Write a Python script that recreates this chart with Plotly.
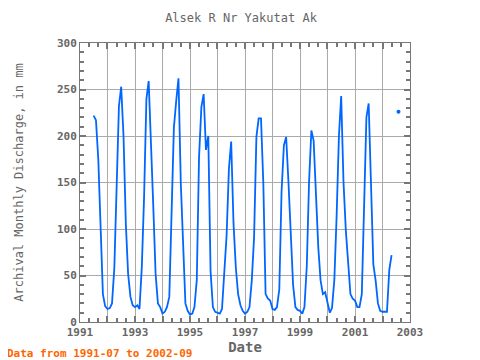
import pandas as pd
import plotly.graph_objects as go

# ---- data (monthly discharge, mm) ----
start_month = "1991-07-01"
end_month = "2002-09-01"
v1991 = [222, 217, 175, 95, 30, 17]
v1992 = [14, 15, 20, 58, 160, 232, 253, 200, 105, 52, 27, 18]
v1993 = [16, 18, 14, 59, 134, 240, 259, 199, 123, 52, 20, 16]
v1994 = [9, 11, 16, 27, 113, 209, 237, 262, 149, 88, 20, 12]
v1995 = [8, 9, 16, 45, 177, 231, 245, 185, 200, 55, 16, 11]
v1996 = [10, 9, 14, 52, 93, 165, 194, 106, 58, 30, 18, 12]
v1997 = [9, 11, 16, 45, 91, 199, 219, 219, 149, 30, 25, 23]
v1998 = [14, 13, 16, 35, 140, 190, 199, 150, 88, 40, 16, 13]
v1999 = [12, 9, 16, 60, 150, 206, 195, 130, 80, 45, 30, 32]
v2000 = [20, 10, 15, 45, 113, 200, 243, 150, 98, 60, 30, 25]
v2001 = [23, 16, 16, 30, 140, 220, 235, 141, 62, 45, 20, 12]
v2002 = [11, 11, 11, 56, 72, None, None, 226, None]

values = v1991 + v1992 + v1993 + v1994 + v1995 + v1996 + v1997 + v1998 + v1999 + v2000 + v2001 + v2002
dates = pd.date_range(start_month, end_month, freq="MS")

x_tick_vals = ["1991-01-01", "1992-01-01", "1993-01-01", "1994-01-01", "1995-01-01", "1996-01-01",
               "1997-01-01", "1998-01-01", "1999-01-01", "2000-01-01", "2001-01-01", "2002-01-01",
               "2003-01-01"]
x_tick_text = ["1991", "", "1993", "", "1995", "", "1997", "", "1999", "", "2001", "", "2003"]
y_tick_vals = [0, 50, 100, 150, 200, 250, 300]

# isolated points (no neighbours) need markers to be visible
iso_x, iso_y = [], []
for i, v in enumerate(values):
    if v is None:
        continue
    prev_none = i == 0 or values[i - 1] is None
    next_none = i == len(values) - 1 or values[i + 1] is None
    if prev_none and next_none and i != 0:
        iso_x.append(dates[i])
        iso_y.append(v)

LINE = "#0066ff"
GRAY = "#666666"
FONT = "DejaVu Sans Mono"

# page body has an 8px margin, so the figure is sized/placed to compensate
W, H = 472, 352
ML, MR, MT, MB = 72, 70, 35, 38
PW, PH = W - ML - MR, H - MT - MB

fig = go.Figure()
fig.add_trace(go.Scatter(x=dates, y=values, mode="lines",
                         line=dict(color=LINE, width=1.8), connectgaps=False))
fig.add_trace(go.Scatter(x=iso_x, y=iso_y, mode="markers",
                         marker=dict(color=LINE, size=4)))

fig.update_layout(
    width=W, height=H,
    margin=dict(l=ML, r=MR, t=MT, b=MB, autoexpand=False),
    paper_bgcolor="white", plot_bgcolor="white",
    showlegend=False,
    title=dict(text="Alsek R Nr Yakutat Ak", x=(241 - 8) / W, xanchor="center",
               y=1 - 10 / H, yanchor="middle",
               font=dict(family=FONT, size=12, color=GRAY)),
    font=dict(family=FONT, color=GRAY),
)

fig.update_xaxes(
    range=["1991-01-01", "2003-01-01"], automargin=False,
    tickmode="array", tickvals=x_tick_vals, ticktext=x_tick_text,
    ticks="inside", ticklen=6, tickwidth=2, tickcolor="#777777",
    showgrid=True, gridcolor="#aaaaaa", gridwidth=1,
    showline=True, linecolor="#777777", linewidth=1, mirror="allticks",
    tickfont=dict(family=FONT, size=11, color=GRAY, weight="bold"),
    minor=dict(dtick="M4", tick0="1991-01-01", ticks="inside", ticklen=4, tickwidth=2,
               tickcolor="#777777", showgrid=False),
    title=dict(text="Date", font=dict(family=FONT, size=14, color=GRAY, weight="bold"), standoff=3),
    zeroline=False,
)
fig.update_yaxes(
    range=[0, 300], automargin=False,
    tickmode="array", tickvals=y_tick_vals,
    ticks="inside", ticklen=6, tickwidth=2, tickcolor="#777777",
    showgrid=True, gridcolor="#aaaaaa", gridwidth=1,
    showline=True, linecolor="#777777", linewidth=1, mirror="allticks",
    tickfont=dict(family=FONT, size=11, color=GRAY, weight="bold"),
    minor=dict(dtick=10, ticks="inside", ticklen=4, tickwidth=2, tickcolor="#777777", showgrid=False),
    title=dict(text="Archival Monthly Discharge, in mm", font=dict(family=FONT, size=12, color=GRAY),
               standoff=30),
    zeroline=False,
)

fig.add_annotation(text="Data from 1991-07 to 2002-09", xref="paper", yref="paper",
                   x=-75 / PW, xanchor="left", y=-31 / PH, yanchor="middle",
                   showarrow=False,
                   font=dict(family=FONT, size=11, color="#ff6600", weight="bold"))

fig.write_html("out.html")
